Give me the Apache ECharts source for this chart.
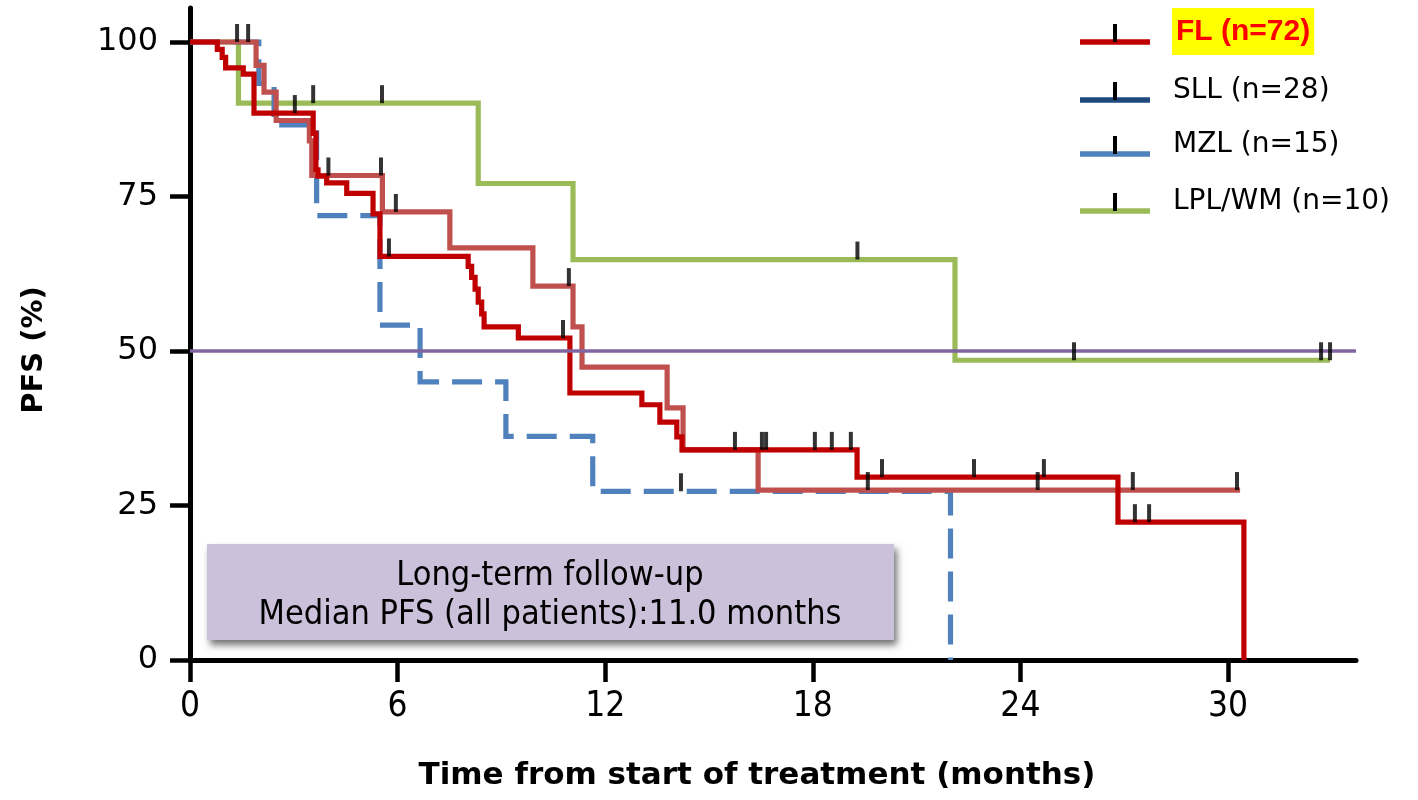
<!DOCTYPE html>
<html><head><meta charset="utf-8">
<script src="https://cdn.jsdelivr.net/npm/echarts@6/dist/echarts.min.js"></script>
<style>html,body{margin:0;padding:0;background:#fff}#c{width:1418px;height:800px}</style>
</head><body><div id="c"></div>
<script>
// ---- data ----
const xTicks = [0, 6, 12, 18, 24, 30];
const yTicks = [0, 25, 50, 75, 100];
const legendLabels = ['FL (n=72)', 'SLL (n=28)', 'MZL (n=15)', 'LPL/WM (n=10)'];
const xTitle = 'Time from start of treatment (months)';
const yTitle = 'PFS (%)';
const noteLines = ['Long-term follow-up', 'Median PFS (all patients):11.0 months'];
const medianRef = 50;

const flTime = [0, 0.79, 0.93, 1.03, 1.54, 1.85, 3.56, 3.64, 3.70, 3.95, 4.53, 5.29, 5.49, 8.04, 8.14, 8.24, 8.33, 8.43, 8.50, 9.49, 10.98, 13.06, 13.58, 14.07, 14.22, 19.28, 26.82, 30.46];
const flSurv = [100, 98.8, 97.5, 95.8, 94.8, 88.5, 85.2, 79.3, 78.3, 77.2, 75.5, 72.2, 65.3, 63.7, 61.9, 60.0, 57.9, 56.0, 53.9, 52.1, 43.2, 41.3, 38.5, 36.1, 34.0, 29.6, 22.3, 0];
const sllTime = [0, 1.91, 2.14, 2.49, 3.45, 3.52, 5.56, 7.51, 9.91, 11.07, 11.33, 13.79, 14.25, 16.42, 30.35];
const sllSurv = [100, 96.2, 91.9, 87.3, 84.0, 78.4, 72.5, 66.7, 60.5, 53.9, 47.4, 40.8, 34.0, 27.5, 27.5];
const mzlTime = [0, 1.99, 2.43, 3.66, 5.49, 6.65, 9.13, 11.64, 21.98];
const mzlSurv = [100, 93.3, 86.6, 71.9, 54.2, 45.0, 36.2, 27.3, 0];
const lplTime = [0, 1.40, 8.33, 11.07, 22.11, 32.95];
const lplSurv = [100, 90.1, 77.1, 64.8, 48.5, 48.5];

const flCensT = [3.03, 5.75, 10.78, 15.75, 16.53, 16.65, 18.06, 18.55, 19.10, 20.0, 22.66, 24.68, 27.31, 27.72];
const flCensS = [88.5, 65.3, 52.1, 34.0, 34.0, 34.0, 34.0, 34.0, 34.0, 29.6, 29.6, 29.6, 22.3, 22.3];
const sllCensT = [1.36, 1.68, 4.0, 5.52, 5.95, 10.95, 19.59, 24.5, 27.25, 30.26];
const sllCensS = [100, 100, 78.4, 78.4, 72.5, 60.5, 27.5, 27.5, 27.5, 27.5];
const mzlCensT = [14.19];
const mzlCensS = [27.3];
const lplCensT = [3.56, 5.55, 19.29, 25.55, 32.69, 32.95];
const lplCensS = [90.1, 90.1, 64.8, 48.5, 48.5, 48.5];

// ---- styles ----
const lineColors = ['#C00000', '#C0504D', '#4F81BD', '#9BBB59'];
const legendColors = ['#C00000', '#1F497D', '#4F81BD', '#9BBB59'];
const zip = (a, b) => a.map((v, i) => [v, b[i]]);

const chart = echarts.init(document.getElementById('c'), null, {renderer: 'canvas'});

function kmSeries(name, t, s, color, dashed) {
  return {
    name, type: 'line', step: 'end', symbol: 'none', silent: true,
    data: zip(t, s),
    lineStyle: {color, width: 5.2, type: dashed ? [30, 13] : 'solid', cap: 'butt', join: 'miter'}
  };
}
function censor(t, s) {
  return {
    type: 'scatter', silent: true, z: 5, data: zip(t, s),
    symbol: 'rect', symbolSize: [4, 18], symbolOffset: [0, -9],
    itemStyle: {color: '#000'}
  };
}

const legendY = [42, 100, 154, 211];
const legendGraphics = [];
legendLabels.forEach((lab, i) => {
  const ly = legendY[i];
  legendGraphics.push({type: 'line', shape: {x1: 1080, y1: ly, x2: 1150, y2: ly}, style: {stroke: legendColors[i], lineWidth: 5.5}});
  legendGraphics.push({type: 'rect', shape: {x: 1113, y: ly - 18, width: 4, height: 18}, style: {fill: '#000'}});
  if (i === 0) {
    legendGraphics.push({type: 'text', x: 1172, y: 31.5, style: {text: lab, fill: '#FF0000', font: 'bold 30px "Liberation Sans", Arial, sans-serif', backgroundColor: '#FFFF00', padding: [9, 4, 8, 4], verticalAlign: 'middle', align: 'left'}});
  } else {
    legendGraphics.push({type: 'text', x: 1173, y: ly - 9, style: {text: lab, fill: '#000', font: '28px "DejaVu Sans", sans-serif', verticalAlign: 'middle', align: 'left'}});
  }
});

const noteFont = '34px "DejaVu Sans Condensed", "DejaVu Sans", sans-serif';

const option = {
  animation: false,
  backgroundColor: '#fff',
  grid: {left: 190, top: 8, width: 1166, height: 652, outerBoundsMode: 'none'},
  xAxis: {
    type: 'value', min: 0, max: 33.7,
    name: xTitle, nameLocation: 'middle', nameGap: 100,
    nameTextStyle: {color: '#000', fontFamily: 'DejaVu Sans', fontWeight: 'bold', fontSize: 31, padding: [0, 32, 0, 0]},
    axisLine: {show: true, onZero: false, lineStyle: {color: '#000', width: 5}},
    axisTick: {show: true, length: 22, lineStyle: {color: '#000', width: 4.5}, customValues: xTicks},
    axisLabel: {color: '#000', fontFamily: '"DejaVu Sans Condensed", sans-serif', fontSize: 35, margin: 29, customValues: xTicks},
    splitLine: {show: false}
  },
  yAxis: {
    type: 'value', min: 0, max: 105.5,
    name: yTitle, nameLocation: 'middle', nameGap: 141, nameRotate: 90,
    nameTextStyle: {color: '#000', fontFamily: 'DejaVu Sans', fontWeight: 'bold', fontSize: 29, padding: [0, 32, 0, 0]},
    axisLine: {show: true, onZero: false, lineStyle: {color: '#000', width: 5}},
    axisTick: {show: true, length: 20, lineStyle: {color: '#000', width: 4.5}, customValues: yTicks},
    axisLabel: {color: '#000', fontFamily: 'DejaVu Sans', fontSize: 32, margin: 32, customValues: yTicks},
    splitLine: {show: false}
  },
  series: [
    {type: 'line', data: [], silent: true, markLine: {silent: true, symbol: 'none', label: {show: false}, lineStyle: {color: '#8064A2', width: 3.5, type: 'solid'}, data: [{yAxis: medianRef}]}},
    kmSeries(legendLabels[3], lplTime, lplSurv, lineColors[3], false),
    kmSeries(legendLabels[2], mzlTime, mzlSurv, lineColors[2], true),
    kmSeries(legendLabels[1], sllTime, sllSurv, lineColors[1], false),
    kmSeries(legendLabels[0], flTime, flSurv, lineColors[0], false),
    censor(lplCensT, lplCensS),
    censor(mzlCensT, mzlCensS),
    censor(sllCensT, sllCensS),
    censor(flCensT, flCensS)
  ],
  graphic: [
    {type: 'rect', shape: {x: 207, y: 544, width: 687, height: 96}, style: {fill: '#CCC1DA', shadowBlur: 7, shadowOffsetX: 3, shadowOffsetY: 5, shadowColor: 'rgba(0,0,0,0.55)'}, z: 10},
    {type: 'text', x: 550, y: 576, z: 11, style: {text: noteLines[0], fill: '#000', font: noteFont, align: 'center', verticalAlign: 'middle'}},
    {type: 'text', x: 550, y: 615, z: 11, style: {text: noteLines[1], fill: '#000', font: noteFont, align: 'center', verticalAlign: 'middle'}}
  ].concat(legendGraphics)
};
chart.setOption(option);
</script>
</body></html>
